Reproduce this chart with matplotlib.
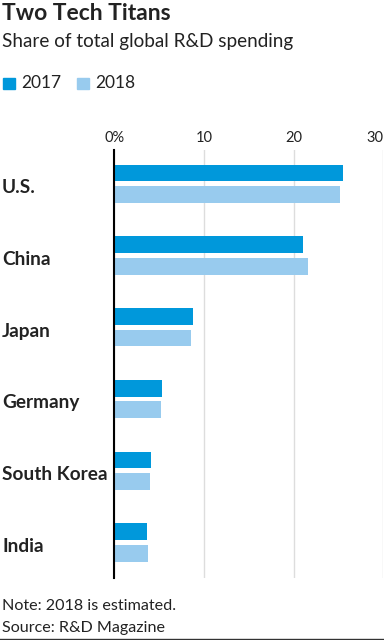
import numpy as np
import matplotlib.pyplot as plt
import matplotlib.transforms as mtrans
from matplotlib.lines import Line2D

countries  = ["U.S.", "China", "Japan", "Germany", "South Korea", "India"]
share_2017 = [25.5, 21.0, 8.8, 5.35, 4.1, 3.65]
share_2018 = [25.2, 21.6, 8.5, 5.2, 3.95, 3.8]
years      = ["2017", "2018"]
x_ticks    = [0, 10, 20, 30]
x_labels   = ["0%", "10", "20", "30"]

c2017 = "#0098db"
c2018 = "#98cbee"
txt   = "#222222"

plt.rcParams['font.family'] = ['Lato', 'DejaVu Sans']

fig = plt.figure(figsize=(3.84, 6.4), dpi=100)
W, H = 384, 640
ax = fig.add_axes([114.3 / W, 1 - 578 / H, (383.4 - 114.3) / W, (578 - 149.5) / H])

y = np.arange(len(countries))
h = 0.233
off = 0.151
ax.barh(y - off, share_2017, height=h, color=c2017, zorder=3)
ax.barh(y + off, share_2018, height=h, color=c2018, zorder=3)

ax.set_xlim(0, 30)
ax.set_ylim(5.495, -0.477)

# ::: x axis on top, gridlines :::
ax.xaxis.tick_top()
ax.set_xticks(x_ticks)
ax.set_xticklabels(x_labels, fontsize=10.5, color=txt)
ax.tick_params(axis='x', length=0, pad=3)
ax.get_xticklabels()[-1].set_ha('right')
ax.grid(axis='x', color='#dddddd', linewidth=1, zorder=0)

# ::: country labels (nudged down a couple of pixels) :::
ax.set_yticks(y)
ax.set_yticklabels(countries, fontsize=13.7, fontweight='bold', color=txt, ha='left')
ax.tick_params(axis='y', length=0, pad=112.3 * 72 / 100)
shift = mtrans.ScaledTranslation(0, -2.5 / 100, fig.dpi_scale_trans)
for lab in ax.get_yticklabels():
    lab.set_transform(lab.get_transform() + shift)

for s in ['top', 'right', 'bottom']:
    ax.spines[s].set_visible(False)
ax.spines['left'].set_color('black')
ax.spines['left'].set_linewidth(1.5)
ax.spines['left'].set_zorder(4)

# ::: titles, legend, notes :::
fig.text(2 / W, 1 - 13 / H, "Two Tech Titans", fontsize=16.5, fontweight='bold', color=txt, va='center')
fig.text(2 / W, 1 - 41 / H, "Share of total global R&D spending", fontsize=13.6, color=txt, va='center')

fig.patches.append(plt.Rectangle((3 / W, 1 - 89 / H), 12 / W, 11 / H, color=c2017, transform=fig.transFigure))
fig.text(21 / W, 1 - 83 / H, years[0], fontsize=12.5, color=txt, va='center')
fig.patches.append(plt.Rectangle((77 / W, 1 - 89 / H), 12 / W, 11 / H, color=c2018, transform=fig.transFigure))
fig.text(95 / W, 1 - 83 / H, years[1], fontsize=12.5, color=txt, va='center')

fig.text(2 / W, 1 - 606 / H, "Note: 2018 is estimated.", fontsize=11.6, color=txt, va='center')
fig.text(2 / W, 1 - 628 / H, "Source: R&D Magazine", fontsize=11.6, color=txt, va='center')
fig.lines.append(Line2D([0, 1], [1 - 638.5 / H] * 2, color='#333333', linewidth=1, transform=fig.transFigure))

fig.savefig("out.png", dpi=100)
